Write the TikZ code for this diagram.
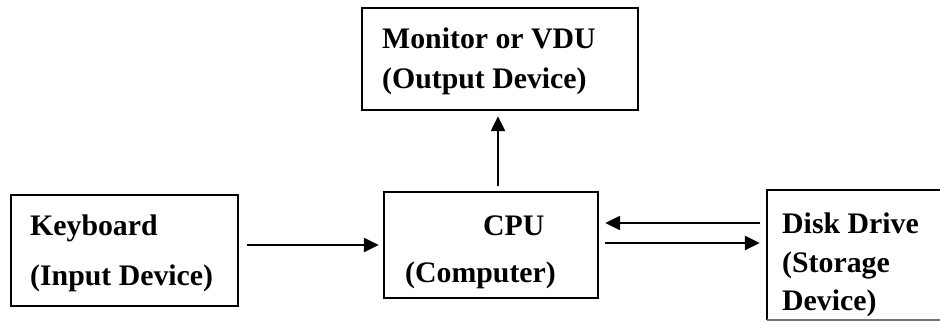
\documentclass[tikz,border=0pt]{standalone}
\usepackage{fontspec}
\setmainfont{Liberation Serif}
\usetikzlibrary{arrows.meta,calc}
\begin{document}
\begin{tikzpicture}[x=1pt,y=1pt,
  boxn/.style={draw=black,line width=2.4pt,rectangle,inner sep=0pt},
  lbl/.style={anchor=base west,inner sep=0pt,font=\fontsize{29.8}{36}\selectfont\bfseries},
  arr/.style={line width=2.4pt,-{Triangle[length=15pt,width=14pt]}}]
\useasboundingbox (0,0) rectangle (940,-322);
% boxes
\node[boxn,minimum width=276pt,minimum height=102pt] (mon) at (500,-59) {};
\node[boxn,minimum width=227pt,minimum height=111pt] (key) at (124.5,-250.5) {};
\node[boxn,minimum width=214pt,minimum height=106pt] (cpu) at (491,-245) {};
\node[rectangle,inner sep=0pt,minimum width=200pt,minimum height=130pt] (disk) at (867,-255) {};
\draw[line width=2.4pt] (disk.south west) -- (disk.north west) -- (disk.north east);
\draw[line width=1.6pt,black!55] (disk.south west) -- (disk.south east);
% texts
\node[lbl] (mon1) at (382,-48) {Monitor or VDU};
\node[lbl] (mon2) at (382,-88) {(Output Device)};
\node[lbl] (key1) at (30,-235) {Keyboard};
\node[lbl] (key2) at (30,-285) {(Input Device)};
\node[lbl] (cpu1) at (483,-235) {CPU};
\node[lbl] (cpu2) at (405,-282) {(Computer)};
\node[lbl] (dsk1) at (782,-233) {Disk Drive};
\node[lbl] (dsk2) at (782,-272) {(Storage};
\node[lbl] (dsk3) at (782,-310) {Device)};
% connectors
\draw[arr,shorten <=8pt,shorten >=4pt] (key.east |- cpu.west) -- (cpu.west);
\draw[arr,shorten <=5pt,shorten >=5pt] ([xshift=7pt]cpu.north) -- ([xshift=7pt]cpu.north |- mon.south);
\draw[arr,shorten <=7pt,shorten >=6pt] ([yshift=32pt]disk.west) -- ([yshift=32pt]disk.west -| cpu.east);
\draw[arr,shorten <=6pt,shorten >=7pt] ([yshift=12pt]disk.west -| cpu.east) -- ([yshift=12pt]disk.west);
\end{tikzpicture}
\end{document}
